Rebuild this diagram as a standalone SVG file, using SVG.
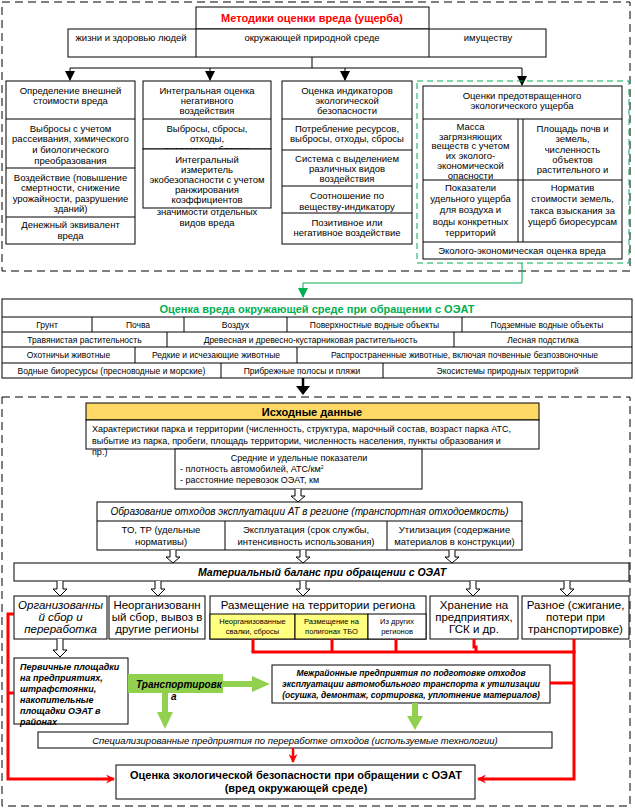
<svg xmlns="http://www.w3.org/2000/svg" width="635" height="808" viewBox="0 0 635 808">
<style>
.bx{fill:#fff;stroke:#000;stroke-width:1}
.ln{stroke:#000;stroke-width:1;fill:none}
.dash{fill:none;stroke:#000;stroke-width:1;stroke-dasharray:8,5}
text{font-family:"Liberation Sans",Arial,sans-serif;fill:#000}
.s{font-size:9.5px;text-anchor:middle}
.g{font-size:8.5px;text-anchor:middle}
.m{font-size:11.5px;text-anchor:middle}
.ha{fill:#fff;stroke:#000;stroke-width:1}
.red{stroke:#f00;stroke-width:3;fill:none}
.grn{fill:#92D050}
</style>
<defs>
<marker id="ab" markerWidth="10" markerHeight="10" refX="9" refY="5" orient="auto" markerUnits="userSpaceOnUse"><path d="M0,0 L10,5 L0,10 z" fill="#000"/></marker>
<marker id="ag" markerWidth="10" markerHeight="10" refX="9" refY="5" orient="auto" markerUnits="userSpaceOnUse"><path d="M0,0 L10,5 L0,10 z" fill="#00B050"/></marker>
<marker id="ar" markerWidth="9" markerHeight="9" refX="8" refY="4.5" orient="auto" markerUnits="userSpaceOnUse"><path d="M0,0 L9,4.5 L0,9 L3,4.5 z" fill="#f00"/></marker>
</defs>

<!-- top section -->
<rect class="dash" x="2" y="2" width="628" height="269"/>

<g id="title">
<rect class="bx" x="196" y="7" width="233" height="22"/>
<text x="312" y="21.5" style="font-size:11px;font-weight:bold;fill:#f00;text-anchor:middle">Методики оценки вреда (ущерба)</text>
</g>
<g id="objects">
<rect class="bx" x="68" y="29" width="478" height="28"/>
<line class="ln" x1="196" y1="29" x2="196" y2="57"/>
<line class="ln" x1="429" y1="29" x2="429" y2="57"/>
<text class="s" x="131" y="41">жизни и здоровью людей</text>
<text class="s" x="312" y="41">окружающей природной среде</text>
<text class="s" x="488" y="41">имуществу</text>
</g>

<g id="connectors-top">
<line class="ln" x1="312" y1="57" x2="312" y2="68"/>
<line class="ln" x1="70" y1="68" x2="522" y2="68"/>
<line class="ln" x1="70" y1="68" x2="70" y2="80" marker-end="url(#ab)"/>
<line class="ln" x1="210" y1="68" x2="210" y2="80" marker-end="url(#ab)"/>
<line class="ln" x1="345" y1="68" x2="345" y2="80" marker-end="url(#ab)"/>
<line class="ln" x1="522" y1="68" x2="522" y2="85" marker-end="url(#ab)"/>
<polyline points="522,263 522,283 303,283 303,297" fill="none" stroke="#00B050" stroke-width="1" marker-end="url(#ag)"/>
</g>

<g id="m1">
<rect class="bx" x="6" y="81" width="129" height="163"/>
<line class="ln" x1="6" y1="119" x2="135" y2="119"/>
<line class="ln" x1="6" y1="168" x2="135" y2="168"/>
<line class="ln" x1="6" y1="217" x2="135" y2="217"/>
<text class="s"><tspan x="70.5" y="93.5">Определение внешней</tspan><tspan x="70.5" y="103.5">стоимости вреда</tspan></text>
<text class="s"><tspan x="70.5" y="131.5">Выбросы с учетом</tspan><tspan x="70.5" y="142">рассеивания, химического</tspan><tspan x="70.5" y="153">и биологического</tspan><tspan x="70.5" y="163.5">преобразования</tspan></text>
<text class="s"><tspan x="70.5" y="180.5">Воздействие (повышение</tspan><tspan x="70.5" y="191">смертности, снижение</tspan><tspan x="70.5" y="201.5">урожайности, разрушение</tspan><tspan x="70.5" y="212">зданий)</tspan></text>
<text class="s"><tspan x="70.5" y="228">Денежный эквивалент</tspan><tspan x="70.5" y="239">вреда</tspan></text>
</g>

<g id="m2">
<rect class="bx" x="143" y="81" width="128" height="68"/>
<line class="ln" x1="143" y1="119" x2="271" y2="119"/>
<text class="s"><tspan x="207" y="93.5">Интегральная оценка</tspan><tspan x="207" y="103.5">негативного</tspan><tspan x="207" y="113.5">воздействия</tspan></text>
<text class="s"><tspan x="207" y="131.5">Выбросы, сбросы,</tspan><tspan x="207" y="142">отходы,</tspan><tspan x="207" y="153">энергопотребление</tspan></text>
<rect class="bx" x="143" y="149" width="128" height="59"/>
<text class="s"><tspan x="207" y="163">Интегральный</tspan><tspan x="207" y="172.5">измеритель</tspan><tspan x="207" y="182.5">экобезопасности с учетом</tspan><tspan x="207" y="192.5">ранжирования</tspan><tspan x="207" y="202.5">коэффициентов</tspan><tspan x="207" y="215">значимости отдельных</tspan><tspan x="207" y="226">видов вреда</tspan></text>
</g>

<g id="m3">
<rect class="bx" x="282" y="81" width="130" height="163"/>
<line class="ln" x1="282" y1="119" x2="412" y2="119"/>
<line class="ln" x1="282" y1="150" x2="412" y2="150"/>
<line class="ln" x1="282" y1="186" x2="412" y2="186"/>
<line class="ln" x1="282" y1="213" x2="412" y2="213"/>
<text class="s"><tspan x="347" y="93.5">Оценка индикаторов</tspan><tspan x="347" y="103.5">экологической</tspan><tspan x="347" y="113.5">безопасности</tspan></text>
<text class="s"><tspan x="347" y="131.5">Потребление ресурсов,</tspan><tspan x="347" y="142">выбросы, отходы, сбросы</tspan></text>
<text class="s"><tspan x="347" y="161.5">Система с выделением</tspan><tspan x="347" y="171.5">различных видов</tspan><tspan x="347" y="182">воздействия</tspan></text>
<text class="s"><tspan x="347" y="199">Соотношение по</tspan><tspan x="347" y="209.5">веществу-индикатору</tspan></text>
<text class="s"><tspan x="347" y="225.5">Позитивное или</tspan><tspan x="347" y="235.5">негативное воздействие</tspan></text>
</g>

<g id="m4">
<rect x="417" y="81" width="212" height="182" fill="none" stroke="#00B050" stroke-width="1" stroke-dasharray="6,4"/>
<rect class="bx" x="423" y="86" width="199" height="173"/>
<line class="ln" x1="423" y1="119" x2="622" y2="119"/>
<line class="ln" x1="518" y1="119" x2="518" y2="242"/>
<line class="ln" x1="523" y1="119" x2="523" y2="242"/>
<text class="s"><tspan x="522" y="98.5">Оценки предотвращенного</tspan><tspan x="522" y="109">экологического ущерба</tspan></text>
<text class="s"><tspan x="470.5" y="130">Масса</tspan><tspan x="470.5" y="139.7">загрязняющих</tspan><tspan x="470.5" y="149.4">веществ с учетом</tspan><tspan x="470.5" y="159.1">их эколого-</tspan><tspan x="470.5" y="168.8">экономической</tspan><tspan x="470.5" y="178.5">опасности</tspan></text>
<line class="ln" x1="423" y1="180" x2="622" y2="180"/>
<line class="ln" x1="423" y1="242" x2="622" y2="242"/>
<text class="s"><tspan x="470.5" y="190.5">Показатели</tspan><tspan x="470.5" y="201.5">удельного ущерба</tspan><tspan x="470.5" y="213">для воздуха и</tspan><tspan x="470.5" y="224.5">воды конкретных</tspan><tspan x="470.5" y="235.5">территорий</tspan></text>
<text class="s"><tspan x="572.5" y="131.5">Площадь почв и</tspan><tspan x="572.5" y="141.5">земель,</tspan><tspan x="572.5" y="153">численность</tspan><tspan x="572.5" y="163">объектов</tspan><tspan x="572.5" y="173">растительного и</tspan></text>
<text class="s"><tspan x="572.5" y="191">Норматив</tspan><tspan x="572.5" y="202">стоимости земель,</tspan><tspan x="572.5" y="214">такса взыскания за</tspan><tspan x="572.5" y="225">ущерб биоресурсам</tspan></text>
<text class="s" x="522" y="254">Эколого-экономическая оценка вреда</text>
</g>

<!-- green section -->
<g id="env">
<rect class="bx" x="2" y="299" width="630" height="79"/>
<text x="317" y="313" style="font-size:11px;font-weight:bold;fill:#00B050;text-anchor:middle">Оценка вреда окружающей среде при обращении с ОЭАТ</text>
<line class="ln" x1="2" y1="317" x2="632" y2="317"/>
<line class="ln" x1="2" y1="332" x2="632" y2="332"/>
<line class="ln" x1="2" y1="347" x2="632" y2="347"/>
<line class="ln" x1="2" y1="363" x2="632" y2="363"/>
<line class="ln" x1="92" y1="317" x2="92" y2="332"/>
<line class="ln" x1="184" y1="317" x2="184" y2="332"/>
<line class="ln" x1="287" y1="317" x2="287" y2="332"/>
<line class="ln" x1="462" y1="317" x2="462" y2="332"/>
<line class="ln" x1="167" y1="332" x2="167" y2="347"/>
<line class="ln" x1="454" y1="332" x2="454" y2="347"/>
<line class="ln" x1="135" y1="347" x2="135" y2="363"/>
<line class="ln" x1="297" y1="347" x2="297" y2="363"/>
<line class="ln" x1="221" y1="363" x2="221" y2="378"/>
<line class="ln" x1="383" y1="363" x2="383" y2="378"/>
<text class="g" x="47" y="327.5">Грунт</text>
<text class="g" x="138" y="327.5">Почва</text>
<text class="g" x="235.5" y="327.5">Воздух</text>
<text class="g" x="374.5" y="327.5">Поверхностные водные объекты</text>
<text class="g" x="547" y="327.5">Подземные водные объекты</text>
<text class="g" x="84.5" y="342.5">Травянистая растительность</text>
<text class="g" x="310.5" y="342.5">Древесная и древесно-кустарниковая растительность</text>
<text class="g" x="543" y="342.5">Лесная подстилка</text>
<text class="g" x="68.5" y="358">Охотничьи животные</text>
<text class="g" x="216" y="358">Редкие и исчезающие животные</text>
<text class="g" x="464.5" y="358">Распространенные животные, включая почвенные безпозвоночные</text>
<text class="g" x="111.5" y="373.5">Водные биоресурсы (пресноводные и морские)</text>
<text class="g" x="302" y="373.5">Прибрежные полосы и пляжи</text>
<text class="g" x="507.5" y="373.5">Экосистемы природных территорий</text>
</g>

<g id="conn-mid">
<line x1="303" y1="378" x2="303" y2="388" stroke="#000" stroke-width="2.5"/>
<path d="M296,386 L310,386 L303,395 z" fill="#000"/>
</g>

<!-- bottom section -->
<rect class="dash" x="2" y="397" width="628" height="409"/>

<g id="src">
<rect x="86" y="403" width="453" height="17" fill="#FFD966" stroke="#000" stroke-width="1"/>
<text x="312" y="416" style="font-size:11px;font-weight:bold;text-anchor:middle">Исходные данные</text>
<rect class="bx" x="86" y="420" width="453" height="29"/>
<text style="font-size:9px"><tspan x="92" y="432">Характеристики парка и территории (численность, структура, марочный состав, возраст парка АТС,</tspan><tspan x="92" y="443.5">выбытие из парка, пробеги, площадь территории, численность населения, пункты образования и</tspan><tspan x="92" y="455">пр.)</tspan></text>
</g>
<g id="avg">
<rect class="bx" x="175" y="449" width="247" height="40"/>
<text x="299" y="461" style="font-size:9px;text-anchor:middle">Средние и удельные показатели</text>
<text style="font-size:9px"><tspan x="180" y="471.5">- плотность автомобилей, АТС/км</tspan><tspan dy="-3" style="font-size:5px">2</tspan><tspan x="180" y="483">- расстояние перевозок ОЭАТ, км</tspan></text>
</g>

<g id="form">
<rect class="bx" x="97" y="502" width="425" height="48"/>
<line class="ln" x1="97" y1="521" x2="522" y2="521"/>
<line class="ln" x1="225" y1="521" x2="225" y2="550"/>
<line class="ln" x1="387" y1="521" x2="387" y2="550"/>
<text x="309.5" y="515" style="font-size:10px;font-style:italic;text-anchor:middle">Образование отходов эксплуатации АТ в регионе (транспортная отходоемкость)</text>
<text class="s"><tspan x="161" y="532.5">ТО, ТР (удельные</tspan><tspan x="161" y="544.5">нормативы)</tspan></text>
<text class="s"><tspan x="306" y="532.5">Эксплуатация (срок службы,</tspan><tspan x="306" y="544.5">интенсивность использования)</tspan></text>
<text class="s"><tspan x="454.5" y="532.5">Утилизация (содержание</tspan><tspan x="454.5" y="544.5">материалов в конструкции)</tspan></text>
</g>

<g id="balance">
<rect class="bx" x="14" y="563" width="615" height="18"/>
<text x="322" y="576" style="font-size:10.5px;font-weight:bold;font-style:italic;text-anchor:middle">Материальный баланс при обращении с ОЭАТ</text>
</g>

<g id="b1">
<rect class="bx" x="14" y="596" width="93" height="43"/>
<text class="m" style="font-style:italic"><tspan x="60.5" y="609">Организованны</tspan><tspan x="60.5" y="621">й сбор и</tspan><tspan x="60.5" y="633">переработка</tspan></text>
</g>
<g id="b2">
<rect class="bx" x="109" y="596" width="96" height="43"/>
<text class="m"><tspan x="157" y="609">Неорганизованн</tspan><tspan x="157" y="621">ый сбор, вывоз в</tspan><tspan x="157" y="633">другие регионы</tspan></text>
</g>
<g id="b3">
<rect class="bx" x="210" y="596" width="216" height="43"/>
<rect x="210" y="614" width="85" height="25" fill="#FFFF80" stroke="#000" stroke-width="1"/>
<rect x="295" y="614" width="73" height="25" fill="#FFFF80" stroke="#000" stroke-width="1"/>
<rect class="bx" x="368" y="614" width="58" height="25"/>
<text class="m" x="318" y="609">Размещение на территории региона</text>
<text style="font-size:7.5px;text-anchor:middle"><tspan x="252.5" y="624">Неорганизованные</tspan><tspan x="252.5" y="634">свалки, сбросы</tspan></text>
<text style="font-size:7.5px;text-anchor:middle"><tspan x="331.5" y="624">Размещение на</tspan><tspan x="331.5" y="634">полигонах ТБО</tspan></text>
<text style="font-size:7.5px;text-anchor:middle"><tspan x="397" y="624">Из других</tspan><tspan x="397" y="634">регионов</tspan></text>
</g>
<g id="b4">
<rect class="bx" x="430" y="596" width="88" height="43"/>
<text class="m"><tspan x="474" y="609">Хранение на</tspan><tspan x="474" y="621">предприятиях,</tspan><tspan x="474" y="633">ГСК и др.</tspan></text>
</g>
<g id="b5">
<rect class="bx" x="522" y="596" width="107" height="43"/>
<text class="m"><tspan x="575.5" y="609">Разное (сжигание,</tspan><tspan x="575.5" y="621">потери при</tspan><tspan x="575.5" y="633">транспортировке)</tspan></text>
</g>

<g id="primary">
<rect class="bx" x="14" y="658" width="114" height="66"/>
<text style="font-size:9px;font-weight:bold;font-style:italic"><tspan x="20" y="670">Первичные площадки</tspan><tspan x="20" y="681">на предприятиях,</tspan><tspan x="20" y="691.5">штрафстоянки,</tspan><tspan x="20" y="702.5">накопительные</tspan><tspan x="20" y="713.5">площадки ОЭАТ в</tspan><tspan x="20" y="724.5">районах</tspan></text>
</g>

<g id="transport">
<rect class="grn" x="128" y="674" width="95" height="19"/>
<text style="font-size:10px;font-weight:bold;font-style:italic"><tspan x="136" y="688">Транспортировк</tspan><tspan x="171" y="700">а</tspan></text>
</g>

<g id="inter">
<rect class="bx" x="272" y="665" width="278" height="38"/>
<text style="font-size:8.5px;font-weight:bold;font-style:italic;text-anchor:middle"><tspan x="411" y="676">Межрайонные предприятия по подготовке отходов</tspan><tspan x="411" y="687">эксплуатации автомобильного транспорта к утилизации</tspan><tspan x="411" y="698">(осушка, демонтаж, сортировка, уплотнение материалов)</tspan></text>
</g>

<g id="spec">
<rect class="bx" x="38" y="732" width="514" height="16"/>
<text x="295" y="743.5" style="font-size:9.5px;font-style:italic;text-anchor:middle">Специализированные предприятия по переработке отходов (используемые технологии)</text>
</g>

<g id="final">
<rect class="bx" x="116" y="765" width="359" height="34"/>
<text style="font-size:11px;font-weight:bold;text-anchor:middle"><tspan x="296" y="779">Оценка экологической безопасности при обращении с ОЭАТ</tspan><tspan x="296" y="791.5">(вред окружающей среде)</tspan></text>
</g>

<g id="connectors">
<path class="ha" d="M295,489 V496 H291 L298,502 L305,496 H301 V489"/>
<path class="ha" d="M170,550 V557 H166 L173,563 L180,557 H176 V550"/>
<path class="ha" d="M300,550 V557 H296 L303,563 L310,557 H306 V550"/>
<path class="ha" d="M449,550 V557 H445 L452,563 L459,557 H455 V550"/>
<path class="ha" d="M57,581 V589 H53 L60,596 L67,589 H63 V581"/>
<path class="ha" d="M155,581 V589 H151 L158,596 L165,589 H161 V581"/>
<path class="ha" d="M300,581 V589 H296 L303,596 L310,589 H306 V581"/>
<path class="ha" d="M470,581 V589 H466 L473,596 L480,589 H476 V581"/>
<path class="ha" d="M564,581 V589 H560 L567,596 L574,589 H570 V581"/>
<path class="ha" d="M57,639 V650 H53 L60,657 L67,650 H63 V639"/>
<path class="grn" d="M223,681 H252 V676 L270,684 L252,692 V687 H223 z"/>
<path class="grn" d="M162,693 H168 V712 H173 L165,729 L157,712 H162 z"/>
<path class="grn" d="M412,703 H418 V716 H423 L415,730 L407,716 H412 z"/>
<line class="red" x1="253" y1="639" x2="253" y2="652"/>
<line class="red" x1="332" y1="639" x2="332" y2="652"/>
<line class="red" x1="396" y1="639" x2="396" y2="652"/>
<polyline class="red" points="474,639 474,647 476,647 476,652"/>
<line class="red" x1="251.5" y1="652" x2="575.5" y2="652"/>
<polyline class="red" points="574,639 574,779 478,779" marker-end="url(#ar)"/>
<line class="red" x1="550" y1="683" x2="574" y2="683"/>
<polyline class="red" points="14,614 8,614 8,779 114,779" marker-end="url(#ar)"/>
<line class="red" x1="8" y1="693" x2="14" y2="693"/>
<line x1="293" y1="748" x2="293" y2="762" stroke="#f00" stroke-width="2.5" marker-end="url(#ar)"/>
</g>
</svg>
